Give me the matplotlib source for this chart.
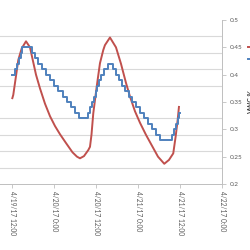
import numpy as np
import pandas as pd
import matplotlib
matplotlib.use("Agg")
import matplotlib.pyplot as plt

plt.rcParams['font.family'] = ['Lato', 'DejaVu Sans']

start = pd.Timestamp('2017-04-19 00:00')

# Red series (smooth) : hours since start, VWC
red_hours = [12.0, 12.27, 13.71, 14.68, 15.91, 17.05, 18.77, 19.91, 21.34, 22.78,
             24.21, 25.64, 27.35, 29.21, 30.5, 31.36, 32.5, 33.73, 34.22, 34.65, 35.16,
             36.14, 37.08, 38.02, 38.5, 39.94, 41.66, 43.09, 44.52, 45.67, 47.1, 48.53,
             50.24, 51.96, 53.68, 55.48, 56.82, 58.05, 58.74, 59.31, 59.68]
red_vwc = [0.357, 0.363, 0.427, 0.448, 0.461, 0.450, 0.400, 0.375, 0.347, 0.324,
           0.306, 0.291, 0.275, 0.258, 0.250, 0.247, 0.251, 0.262, 0.268, 0.290, 0.329,
           0.378, 0.421, 0.445, 0.454, 0.468, 0.450, 0.420, 0.385, 0.360, 0.333, 0.312,
           0.290, 0.270, 0.250, 0.237, 0.244, 0.256, 0.287, 0.317, 0.341]

# Blue series (stepped, 0.01 resolution): change times (hours) and values
blue_hours = [12.0, 12.76, 13.24, 13.9, 14.38, 14.86, 17.53, 18.48, 19.44, 20.58, 21.73,
              22.87, 24.02, 25.16, 26.4, 27.54, 28.69, 29.93, 31.17, 33.74, 34.22, 34.89,
              35.46, 35.94, 36.32, 36.8, 37.37, 38.23, 39.27, 40.9, 41.75, 42.61, 43.47,
              44.33, 45.28, 46.33, 47.38, 48.53, 49.67, 50.72, 51.86, 53.01, 54.25, 57.68,
              58.35, 58.83, 59.3, 59.78, 59.97]
blue_vwc = [0.40, 0.41, 0.42, 0.43, 0.44, 0.45, 0.44, 0.43, 0.42, 0.41, 0.40,
            0.39, 0.38, 0.37, 0.36, 0.35, 0.34, 0.33, 0.32, 0.33, 0.34, 0.35,
            0.36, 0.37, 0.38, 0.39, 0.40, 0.41, 0.42, 0.41, 0.40, 0.39, 0.38,
            0.37, 0.36, 0.35, 0.34, 0.33, 0.32, 0.31, 0.30, 0.29, 0.28, 0.29,
            0.30, 0.31, 0.32, 0.33, 0.33]

tick_hours = [12, 24, 36, 48, 60, 72]
tick_labels = ['4/19/17 12:00', '4/20/17 0:00', '4/20/17 12:00',
               '4/21/17 0:00', '4/21/17 12:00', '4/22/17 0:00']
y_ticks = [0.2, 0.25, 0.3, 0.35, 0.4, 0.45, 0.5]
y_tick_labels = ['0.2', '0.25', '0.3', '0.35', '0.4', '0.45', '0.5']

red_t = start + pd.to_timedelta(red_hours, unit='h')
blue_t = start + pd.to_timedelta(blue_hours, unit='h')
tick_t = start + pd.to_timedelta(tick_hours, unit='h')

fig = plt.figure(figsize=(2.5, 2.5), dpi=100)
ax = fig.add_axes([-29.6 / 250, 66 / 250, 251.6 / 250, 164 / 250])

ax.plot(red_t, red_vwc, color='#C0504D', lw=1.4, label='Modeled', zorder=3)
ax.plot(blue_t, blue_vwc, color='#4F81BD', lw=1.4, drawstyle='steps-post',
        label='Measured', zorder=3)

ax.set_xlim(start, start + pd.Timedelta(hours=72))
ax.set_ylim(0.2, 0.5)

ax.yaxis.tick_right()
ax.yaxis.set_label_position('right')
ax.set_yticks(y_ticks)
ax.set_yticklabels(y_tick_labels)
ax.set_yticks(np.linspace(0.2, 0.5, 11), minor=True)
ax.grid(which='minor', axis='y', color='#D9D9D9', lw=0.8)
ax.grid(which='major', axis='both', visible=False)
ax.tick_params(axis='y', which='minor', length=0)
ax.tick_params(axis='y', which='major', length=3, width=0.6, color='#BFBFBF',
               labelsize=4.6, labelcolor='#595959', pad=2.5)

ax.set_xticks(tick_t)
ax.set_xticklabels(tick_labels, rotation=-90)
ax.tick_params(axis='x', length=3, width=0.6, color='#BFBFBF', labelsize=4.8,
               labelcolor='#595959', pad=2)

for s in ['top', 'left']:
    ax.spines[s].set_visible(False)
for s in ['right', 'bottom']:
    ax.spines[s].set_color('#BFBFBF')
    ax.spines[s].set_linewidth(0.7)

ax.set_ylabel('VWC %', fontsize=5, fontweight='bold', color='#404040', labelpad=4)

fig.legend(loc='upper left', bbox_to_anchor=(248 / 250, 1 - 43 / 250),
           frameon=False, borderpad=0, borderaxespad=0, fontsize=5,
           handlelength=2, labelspacing=0.75)

fig.savefig('out.png', dpi=100)
